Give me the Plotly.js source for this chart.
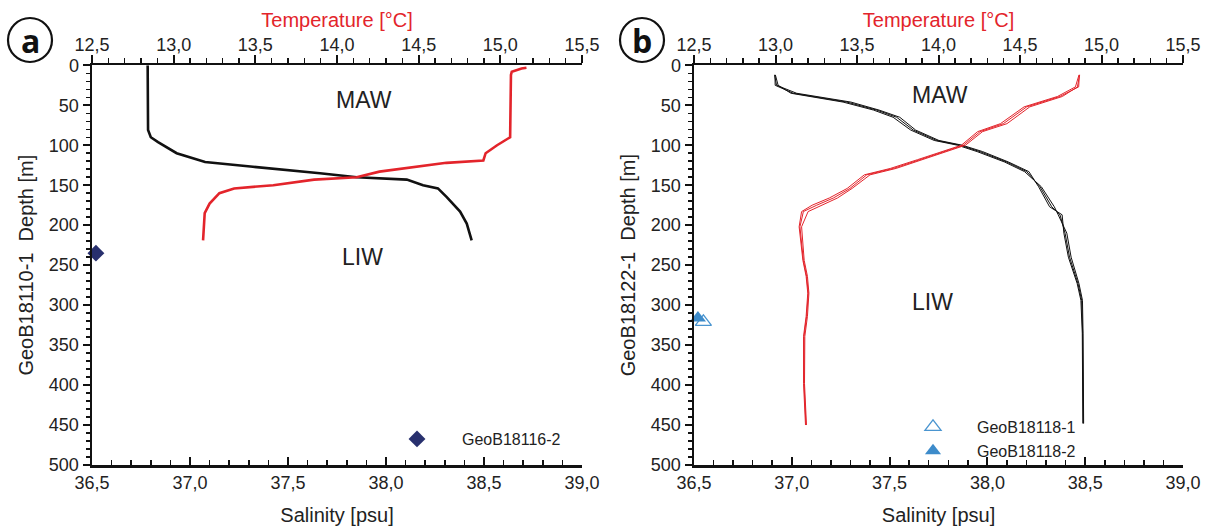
<!DOCTYPE html>
<html>
<head>
<meta charset="utf-8">
<script src="https://cdn.plot.ly/plotly-3.0.1.min.js"></script>
<style>html,body{margin:0;padding:0;background:#fff;}#chart{width:1209px;height:529px;}</style>
</head>
<body>
<div id="chart"></div>
<script>
// ---------- Panel a: GeoB18110-1 ----------
const aSalDepth = [0, 40, 81, 90, 96, 110, 121, 127, 130, 135, 140, 143, 150, 154, 165, 183, 198, 219];
const aSal      = [36.784, 36.784, 36.786, 36.80, 36.837, 36.932, 37.077, 37.321, 37.459, 37.663, 37.851, 38.106, 38.189, 38.265, 38.310, 38.378, 38.412, 38.437];
const aTempDepth = [3, 4, 8, 12, 90, 100, 110, 115, 119, 122, 127, 133, 140, 143, 150, 154, 160, 173, 185, 219];
const aTemp      = [15.16, 15.13, 15.07, 15.065, 15.06, 14.98, 14.91, 14.90, 14.896, 14.67, 14.47, 14.26, 14.12, 13.86, 13.61, 13.37, 13.28, 13.22, 13.19, 13.18];
const aSampleName = 'GeoB18116-2';
const aSampleSal = [36.52];
const aSampleDepth = [235];

// ---------- Panel b: GeoB18122-1 (several casts) ----------
const bSalDepth = [12, 25, 35, 40, 46, 56, 65, 81, 94, 100, 108, 121, 133, 152, 177, 187, 210, 240, 273, 294, 335, 448];
const bSal1 = [36.914, 36.915, 37.008, 37.127, 37.281, 37.434, 37.536, 37.621, 37.741, 37.860, 37.962, 38.099, 38.201, 38.269, 38.329, 38.371, 38.397, 38.420, 38.463, 38.482, 38.487, 38.490];
const bSal2 = [36.912, 36.922, 37.025, 37.145, 37.302, 37.446, 37.552, 37.633, 37.752, 37.872, 37.976, 38.108, 38.212, 38.262, 38.318, 38.382, 38.391, 38.414, 38.459, 38.478, 38.485, 38.488];
const bSal3 = [36.916, 36.930, 36.996, 37.112, 37.262, 37.418, 37.518, 37.608, 37.728, 37.848, 37.948, 38.088, 38.190, 38.276, 38.342, 38.362, 38.406, 38.428, 38.468, 38.486, 38.489, 38.492];
const bTempDepth = [12, 27, 39, 52, 73, 83, 100, 108, 118, 129, 137, 154, 166, 175, 183, 202, 223, 244, 264, 285, 314, 339, 398, 450];
const bTemp1 = [14.864, 14.860, 14.745, 14.541, 14.398, 14.255, 14.152, 14.029, 13.887, 13.723, 13.560, 13.457, 13.355, 13.253, 13.171, 13.150, 13.161, 13.171, 13.191, 13.201, 13.191, 13.175, 13.175, 13.187];
const bTemp2 = [14.866, 14.852, 14.760, 14.560, 14.420, 14.270, 14.165, 14.045, 13.900, 13.740, 13.580, 13.470, 13.380, 13.290, 13.200, 13.160, 13.166, 13.176, 13.196, 13.205, 13.196, 13.180, 13.178, 13.190];
const bTemp3 = [14.862, 14.840, 14.730, 14.525, 14.380, 14.240, 14.140, 14.015, 13.872, 13.705, 13.545, 13.440, 13.330, 13.225, 13.160, 13.145, 13.156, 13.168, 13.188, 13.198, 13.188, 13.172, 13.172, 13.184];
const bSample1Name = 'GeoB18118-1';
const bSample1Sal = [36.548];
const bSample1Depth = [321];
const bSample2Name = 'GeoB18118-2';
const bSample2Sal = [36.52];
const bSample2Depth = [316];

// ---------- Axis ticks / labels ----------
const salRange = [36.5, 39.0];
const tempRange = [12.5, 15.5];
const depthRange = [500, 0];
const waterMasses = ['MAW', 'LIW'];
const aMassSal = [37.89, 37.88];
const aMassDepth = [44, 240];
const bMassSal = [37.76, 37.72];
const bMassDepth = [37, 296];

const RED = '#e3242b';
const BLACK = '#111111';
const TXT = '#222222';
const W = 1209, H = 529;
const px = v => v / W;
const py = v => 1 - v / H;

const traces = [];
function line(x, y, xa, ya, color, width) {
  traces.push({x: x, y: y, xaxis: xa, yaxis: ya, type: 'scatter', mode: 'lines',
    line: {color: color, width: width}, showlegend: false, hoverinfo: 'skip'});
}
line(aSal, aSalDepth, 'x', 'y', BLACK, 2.6);
line(aTemp, aTempDepth, 'x2', 'y', RED, 2.6);
[bSal1, bSal2, bSal3].forEach(s => line(s, bSalDepth, 'x3', 'y2', BLACK, 1));
[bTemp1, bTemp2, bTemp3].forEach(t => line(t, bTempDepth, 'x4', 'y2', RED, 1));

traces.push({x: aSampleSal, y: aSampleDepth, xaxis: 'x', yaxis: 'y', type: 'scatter', mode: 'markers',
  name: aSampleName, marker: {symbol: 'diamond', size: 13, color: '#28306e'}, cliponaxis: false, legend: 'legend'});
traces.push({x: bSample1Sal, y: bSample1Depth, xaxis: 'x3', yaxis: 'y2', type: 'scatter', mode: 'markers',
  name: bSample1Name, marker: {symbol: 'triangle-up-open', size: 14, color: '#4a95d0', line: {width: 1.3}}, cliponaxis: false, legend: 'legend2'});
traces.push({x: bSample2Sal, y: bSample2Depth, xaxis: 'x3', yaxis: 'y2', type: 'scatter', mode: 'markers',
  name: bSample2Name, marker: {symbol: 'triangle-up', size: 14, color: '#3d8bca'}, cliponaxis: false, legend: 'legend2'});

const TICKF = {size: 18, color: TXT};
function xBottom(domain, anchor) {
  return {domain: domain, range: salRange, anchor: anchor, side: 'bottom', showline: true, linewidth: 2.5, linecolor: BLACK,
    ticks: 'inside', ticklen: 8, tickwidth: 2, tickcolor: BLACK, tick0: 36.5, dtick: 0.5, tickformat: '.1f',
    minor: {dtick: 0.1, ticks: 'inside', ticklen: 5, tickwidth: 1.5, tickcolor: BLACK},
    showgrid: false, zeroline: false, fixedrange: true,
    tickfont: TICKF,
    title: {text: 'Salinity [psu]', font: {size: 20, color: TXT}, standoff: 16}};
}
function xTop(over, anchor) {
  return {overlaying: over, range: tempRange, anchor: anchor, side: 'top', showline: true, linewidth: 2.5, linecolor: BLACK,
    ticks: 'outside', ticklen: 8, tickwidth: 2, tickcolor: BLACK, tick0: 12.5, dtick: 0.5, tickformat: '.1f',
    ticklabelstandoff: -3,
    minor: {dtick: 0.1, ticks: 'outside', ticklen: 5, tickwidth: 1.5, tickcolor: BLACK},
    showgrid: false, zeroline: false, fixedrange: true,
    tickfont: TICKF,
    title: {text: 'Temperature [°C]', font: {size: 20, color: RED}, standoff: 2}};
}
function yAxis(anchor, title) {
  return {domain: [py(465), py(65.3)], range: depthRange, anchor: anchor, showline: true, linewidth: 2.5, linecolor: BLACK,
    ticks: 'outside', ticklen: 7, tickwidth: 2, tickcolor: BLACK, tick0: 0, dtick: 50,
    minor: {dtick: 10, ticks: 'outside', ticklen: 4, tickwidth: 1.5, tickcolor: BLACK},
    showgrid: false, zeroline: false, fixedrange: true,
    tickfont: TICKF,
    title: {text: title, font: {size: 20, color: TXT}, standoff: 10}};
}

const annotations = [];
waterMasses.forEach((m, i) => {
  annotations.push({x: aMassSal[i], y: aMassDepth[i], xref: 'x', yref: 'y', text: m, showarrow: false, font: {size: 23, color: TXT}});
  annotations.push({x: bMassSal[i], y: bMassDepth[i], xref: 'x3', yref: 'y2', text: m, showarrow: false, font: {size: 23, color: TXT}});
});
annotations.push({x: px(30), y: py(40), xref: 'paper', yref: 'paper', text: '<b>a</b>', showarrow: false,
  font: {family: 'Open Sans', size: 32, color: '#111'}, xanchor: 'center', yanchor: 'middle'});
annotations.push({x: px(642), y: py(40), xref: 'paper', yref: 'paper', text: '<b>b</b>', showarrow: false,
  font: {family: 'Open Sans', size: 32, color: '#111'}, xanchor: 'center', yanchor: 'middle'});

const shapes = [
  {type: 'circle', xref: 'paper', yref: 'paper', x0: px(8), x1: px(52), y0: py(62), y1: py(18), line: {color: '#111', width: 2.2}},
  {type: 'circle', xref: 'paper', yref: 'paper', x0: px(620), x1: px(664), y0: py(62), y1: py(18), line: {color: '#111', width: 2.2}}
];

const layout = {
  width: W, height: H, margin: {l: 0, r: 0, t: 0, b: 0},
  paper_bgcolor: '#ffffff', plot_bgcolor: 'rgba(0,0,0,0)',
  separators: ', ',
  font: {family: 'Liberation Sans, Arial, sans-serif', size: 18, color: TXT},
  showlegend: true,
  xaxis: xBottom([px(92), px(582)], 'y'),
  xaxis2: xTop('x', 'y'),
  xaxis3: xBottom([px(694), px(1183)], 'y2'),
  xaxis4: xTop('x3', 'y2'),
  yaxis: yAxis('x', 'GeoB18110-1  Depth [m]'),
  yaxis2: yAxis('x3', 'GeoB18122-1  Depth [m]'),
  legend: {x: px(372), y: py(422), xanchor: 'left', yanchor: 'top', bgcolor: 'rgba(0,0,0,0)', borderwidth: 0,
    itemwidth: 80, font: {size: 16, color: TXT}},
  legend2: {x: px(889), y: py(410), xanchor: 'left', yanchor: 'top', bgcolor: 'rgba(0,0,0,0)', borderwidth: 0,
    itemwidth: 78, font: {size: 16, color: TXT}, tracegroupgap: 0},
  annotations: annotations,
  shapes: shapes
};

Plotly.newPlot('chart', traces, layout, {displayModeBar: false, staticPlot: true});
</script>
</body>
</html>
